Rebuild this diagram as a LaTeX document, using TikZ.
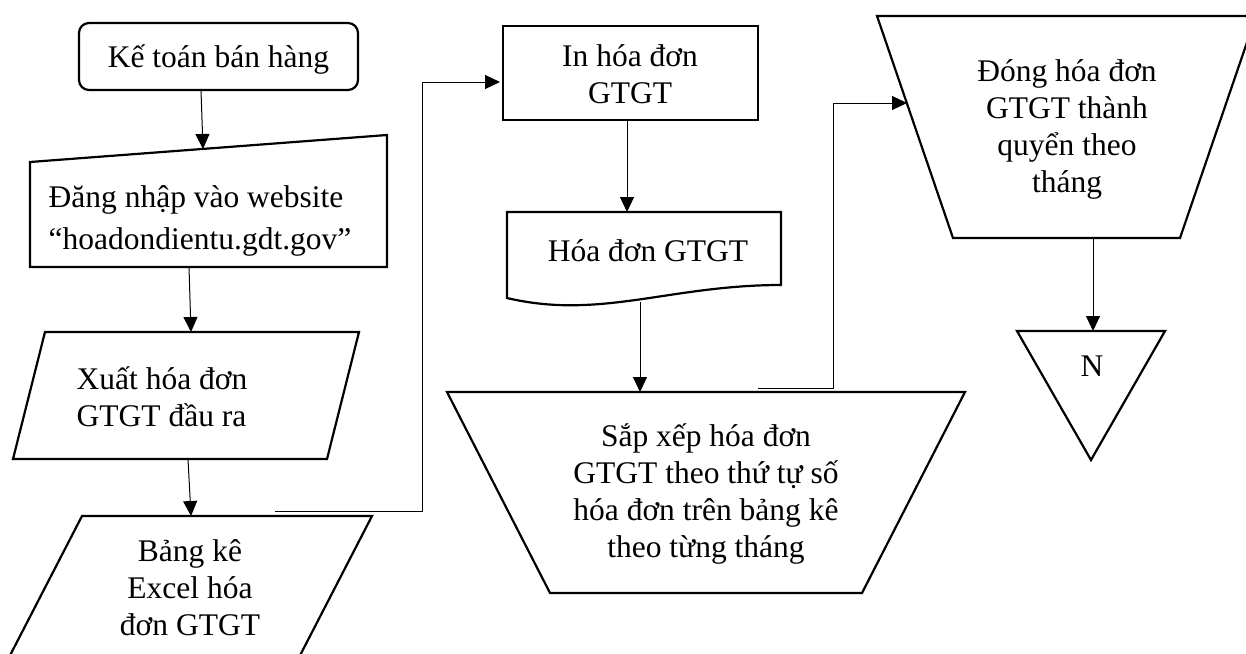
\documentclass[tikz,border=0pt]{standalone}
\usepackage{fontspec}
\setmainfont{Liberation Serif}
\usetikzlibrary{arrows.meta}
\begin{document}
\begin{tikzpicture}[x=1pt,y=-1pt,
 shp/.style={line width=2.2pt, line join=miter},
 conn/.style={line width=1pt},
 arr/.style={conn,-{Triangle[length=15pt,width=14pt]}},
 lbl/.style={font=\fontsize{31.5}{37}\selectfont, align=center, inner sep=0pt}]
\useasboundingbox (0,0) rectangle (1246,653);
\clip (0,0) rectangle (1246,653);

% Ke toan ban hang
\draw[shp, rounded corners=10pt] (79,23) rectangle (358,90);
\node[lbl] (kt) at (218.5,59) {Kế toán bán hàng};

% Dang nhap (manual input)
\draw[shp] (30,162) -- (387,135) -- (387,267) -- (30,267) -- cycle;
\node[lbl, align=left] (dn) at (200,221) {Đăng nhập vào website\\[5pt]“hoadondientu.gdt.gov”};

% Xuat hoa don
\draw[shp] (45,332) -- (359,332) -- (327,459) -- (13,459) -- cycle;
\node[lbl, align=left] (xu) at (162,397) {Xuất hóa đơn\\GTGT đầu ra};

% Bang ke
\draw[shp] (82,516) -- (372,516) -- (277,700) -- (-13,700) -- cycle;
\node[lbl] (bk) at (190,588) {Bảng kê\\Excel hóa\\đơn GTGT};

% In hoa don
\draw[shp] (503,26) rectangle (758,120);
\node[lbl] (in) at (630,74) {In hóa đơn\\GTGT};

% Hoa don GTGT (document)
\draw[shp] (507,212) -- (781,212) -- (781,285) .. controls (670,285) and (600,320) .. (507,298) -- cycle;
\node[lbl] (hd) at (648,251) {Hóa đơn GTGT};

% Sap xep
\draw[shp] (447,392) -- (965,392) -- (862,593) -- (550,593) -- cycle;
\node[lbl] (sx) at (706,494) {Sắp xếp hóa đơn\\GTGT theo thứ tự số\\hóa đơn trên bảng kê\\theo từng tháng};

% Dong hoa don
\draw[shp] (877,16) -- (1256,16) -- (1180,238) -- (953,238) -- cycle;
\node[lbl] (dg) at (1067,129) {Đóng hóa đơn\\GTGT thành\\quyển theo\\tháng};

% N triangle
\draw[shp] (1017,331) -- (1165,331) -- (1091,460) -- cycle;
\node[lbl] (n) at (1092,366) {N};

% connector points
\coordinate (kt-out) at (201,90);
\coordinate (dn-in) at (203,149);
\coordinate (dn-out) at (189,267);
\coordinate (xu-in) at (191,332);
\coordinate (xu-out) at (188,459);
\coordinate (bk-in) at (191,516);
\coordinate (bk-out) at (275,511);
\coordinate (in-in) at (500,82);
\coordinate (in-out) at (627,120);
\coordinate (hd-in) at (627,212);
\coordinate (hd-out) at (640,302);
\coordinate (sx-in) at (640,392);
\coordinate (sx-out) at (758,388);
\coordinate (dg-in) at (907,103);
\coordinate (dg-out) at (1093,238);
\coordinate (n-in) at (1093,331);

\draw[arr] (kt-out) -- (dn-in);
\draw[arr] (dn-out) -- (xu-in);
\draw[arr] (xu-out) -- (bk-in);
\draw[arr] (bk-out) -- (422,511) -- (422,82) -- (in-in);
\draw[arr] (in-out) -- (hd-in);
\draw[arr] (hd-out) -- (sx-in);
\draw[arr] (sx-out) -- (833,388) -- (833,103) -- (dg-in);
\draw[arr] (dg-out) -- (n-in);
\end{tikzpicture}
\end{document}
